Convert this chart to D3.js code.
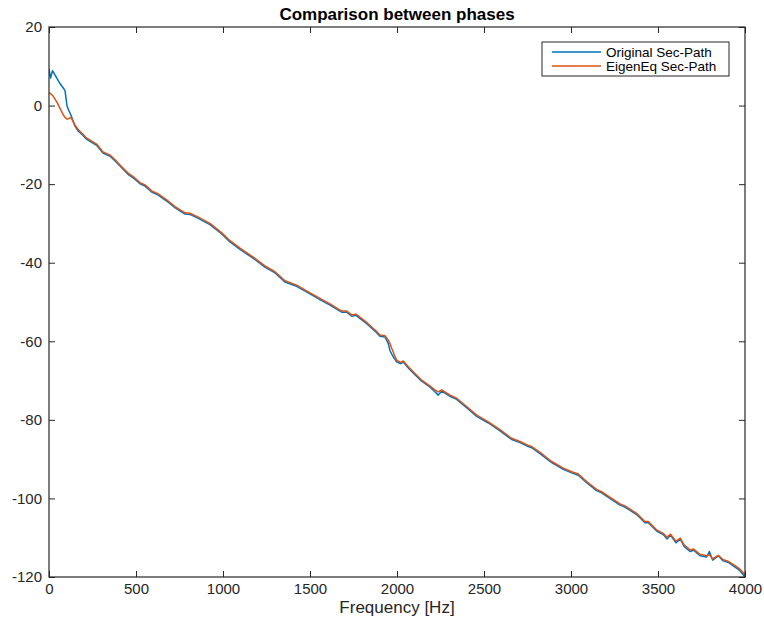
<!DOCTYPE html>
<html>
<head>
<meta charset="utf-8">
<script src="https://cdn.jsdelivr.net/npm/d3@7"></script>
<style>
  html, body { margin: 0; padding: 0; background: #fff; }
  svg { display: block; font-family: "Liberation Sans", Arial, Helvetica, sans-serif; }
</style>
</head>
<body>
<svg id="chart" width="764" height="621"></svg>
<script>
// ---- data ----
const titleText = "Comparison between phases";
const xLabel = "Frequency [Hz]";
const seriesNames = ["Original Sec-Path", "EigenEq Sec-Path"];
const xTicks = [0, 500, 1000, 1500, 2000, 2500, 3000, 3500, 4000];
const yTicks = [-120, -100, -80, -60, -40, -20, 0, 20];

const freq = [0, 9, 20, 34, 50, 63, 80, 92, 103, 110, 126, 149, 170, 188, 217, 250, 274, 310, 351, 380, 408, 454, 490, 523, 552, 590, 628, 676, 724, 782, 810, 858, 925, 993, 1040, 1098, 1174, 1241, 1299, 1356, 1423, 1490, 1557, 1615, 1682, 1711, 1740, 1764, 1826, 1880, 1902, 1931, 1950, 1960, 1969, 1979, 1985, 1998, 2017, 2021, 2036, 2065, 2103, 2140, 2190, 2215, 2237, 2257, 2305, 2343, 2400, 2458, 2525, 2592, 2659, 2707, 2755, 2774, 2822, 2889, 2956, 3004, 3042, 3090, 3147, 3176, 3234, 3282, 3310, 3377, 3425, 3444, 3492, 3530, 3552, 3572, 3603, 3628, 3650, 3684, 3705, 3741, 3780, 3795, 3814, 3846, 3875, 3904, 3943, 3971, 4000];

const original = [9.3, 7.0, 8.9, 7.8, 6.6, 5.6, 4.6, 3.8, 0.1, -0.9, -2.4, -5.2, -6.6, -7.3, -8.6, -9.5, -10.1, -12.1, -12.9, -14.1, -15.4, -17.5, -18.6, -19.9, -20.5, -22.0, -22.8, -24.3, -26.0, -27.6, -27.7, -28.7, -30.3, -32.7, -34.7, -36.6, -38.9, -41.1, -42.6, -44.9, -46.0, -47.7, -49.4, -50.8, -52.6, -52.6, -53.6, -53.4, -55.5, -57.7, -58.7, -58.9, -60.6, -62.4, -63.2, -64.0, -64.4, -65.2, -65.6, -65.7, -65.3, -66.8, -68.5, -70.1, -71.7, -72.7, -73.7, -72.7, -74.0, -74.8, -76.9, -79.1, -80.8, -82.8, -85.0, -85.8, -86.8, -87.1, -88.6, -90.9, -92.6, -93.5, -94.1, -96.0, -98.0, -98.6, -100.3, -101.7, -102.2, -104.1, -106.2, -106.2, -108.3, -109.2, -110.3, -109.3, -111.3, -110.3, -112.2, -113.5, -113.2, -114.6, -114.9, -113.5, -115.7, -114.6, -115.9, -116.3, -117.5, -118.4, -120.0];

const eigenEq = [3.3, 3.0, 2.6, 1.7, 0.5, -0.7, -2.2, -3.0, -3.4, -3.4, -3.0, -5.0, -6.2, -7.0, -8.3, -9.2, -9.8, -11.8, -12.6, -13.8, -15.1, -17.2, -18.3, -19.6, -20.2, -21.7, -22.5, -24.0, -25.7, -27.3, -27.4, -28.4, -30.0, -32.4, -34.4, -36.3, -38.6, -40.8, -42.3, -44.6, -45.7, -47.4, -49.1, -50.5, -52.3, -52.3, -53.3, -53.1, -55.2, -57.4, -58.4, -58.6, -59.7, -60.6, -61.7, -62.8, -63.6, -64.8, -65.3, -65.4, -65.0, -66.5, -68.2, -69.8, -71.4, -72.3, -72.9, -72.4, -73.7, -74.5, -76.6, -78.8, -80.5, -82.5, -84.7, -85.5, -86.5, -86.8, -88.3, -90.6, -92.3, -93.2, -93.8, -95.7, -97.7, -98.3, -100.0, -101.4, -101.9, -103.8, -105.9, -105.9, -108.0, -108.9, -109.9, -109.1, -110.9, -110.1, -111.8, -113.1, -112.9, -114.2, -114.6, -114.3, -115.4, -114.5, -115.6, -116.0, -117.1, -118.0, -119.4];

const colors = ["#0072BD", "#D95319"];

// ---- layout ----
const W = 764, H = 621;
const m = { left: 49, right: 19, top: 27, bottom: 44 };
const iw = W - m.left - m.right, ih = H - m.top - m.bottom;
const axisColor = "#262626";
const fontFam = "'Liberation Sans', Arial, Helvetica, sans-serif";

const svg = d3.select("#chart");
const g = svg.append("g").attr("transform", `translate(${m.left},${m.top})`);

const x = d3.scaleLinear().domain([0, 4000]).range([0, iw]);
const y = d3.scaleLinear().domain([-120, 20]).range([ih, 0]);

g.append("defs").append("clipPath").attr("id", "clip")
  .append("rect").attr("width", iw).attr("height", ih);

// lines
const series = [original, eigenEq];
const line = d3.line().x((d, i) => x(freq[i])).y(d => y(d));
series.forEach((vals, k) => {
  g.append("path")
    .attr("clip-path", "url(#clip)")
    .attr("d", line(vals))
    .attr("fill", "none")
    .attr("stroke", colors[k])
    .attr("stroke-width", 1.5)
    .attr("stroke-linejoin", "round");
});

// axes
const tickLen = 6;
const fmt = d => String(d);
function styleAxis(sel, showLabels) {
  sel.select(".domain").remove();
  sel.selectAll(".tick line").attr("stroke", axisColor).attr("stroke-width", 1);
  sel.selectAll(".tick text")
    .attr("fill", axisColor)
    .style("font-size", "15px")
    .style("font-family", fontFam);
  if (!showLabels) sel.selectAll(".tick text").remove();
}

const xAxisB = g.append("g").attr("transform", `translate(0,${ih})`)
  .call(d3.axisBottom(x).tickValues(xTicks).tickFormat(fmt).tickSizeInner(-tickLen).tickPadding(6));
styleAxis(xAxisB, true);
const xAxisT = g.append("g")
  .call(d3.axisTop(x).tickValues(xTicks).tickSizeInner(-tickLen));
styleAxis(xAxisT, false);
const yAxisL = g.append("g")
  .call(d3.axisLeft(y).tickValues(yTicks).tickFormat(fmt).tickSizeInner(-tickLen).tickPadding(7));
styleAxis(yAxisL, true);
const yAxisR = g.append("g").attr("transform", `translate(${iw},0)`)
  .call(d3.axisRight(y).tickValues(yTicks).tickSizeInner(-tickLen));
styleAxis(yAxisR, false);

// frame
g.append("rect").attr("width", iw).attr("height", ih)
  .attr("fill", "none").attr("stroke", axisColor).attr("stroke-width", 1.2);

// title
svg.append("text")
  .attr("x", m.left + iw / 2).attr("y", 20)
  .attr("text-anchor", "middle")
  .style("font-size", "17px").style("font-weight", "bold")
  .attr("fill", "#000")
  .text(titleText);

// x label
svg.append("text")
  .attr("x", m.left + iw / 2).attr("y", 613)
  .attr("text-anchor", "middle")
  .style("font-size", "17px")
  .attr("fill", axisColor)
  .text(xLabel);

// legend
const lg = svg.append("g").attr("transform", "translate(542,42)");
lg.append("rect").attr("width", 187).attr("height", 34)
  .attr("fill", "#fff").attr("stroke", axisColor).attr("stroke-width", 1);
seriesNames.forEach((name, k) => {
  const yy = 10 + k * 14;
  lg.append("line").attr("x1", 10).attr("x2", 59).attr("y1", yy).attr("y2", yy)
    .attr("stroke", colors[k]).attr("stroke-width", 1.5);
  lg.append("text").attr("x", 64).attr("y", yy + 4.5)
    .style("font-size", "13.5px").attr("fill", "#000").text(name);
});
</script>
</body>
</html>
